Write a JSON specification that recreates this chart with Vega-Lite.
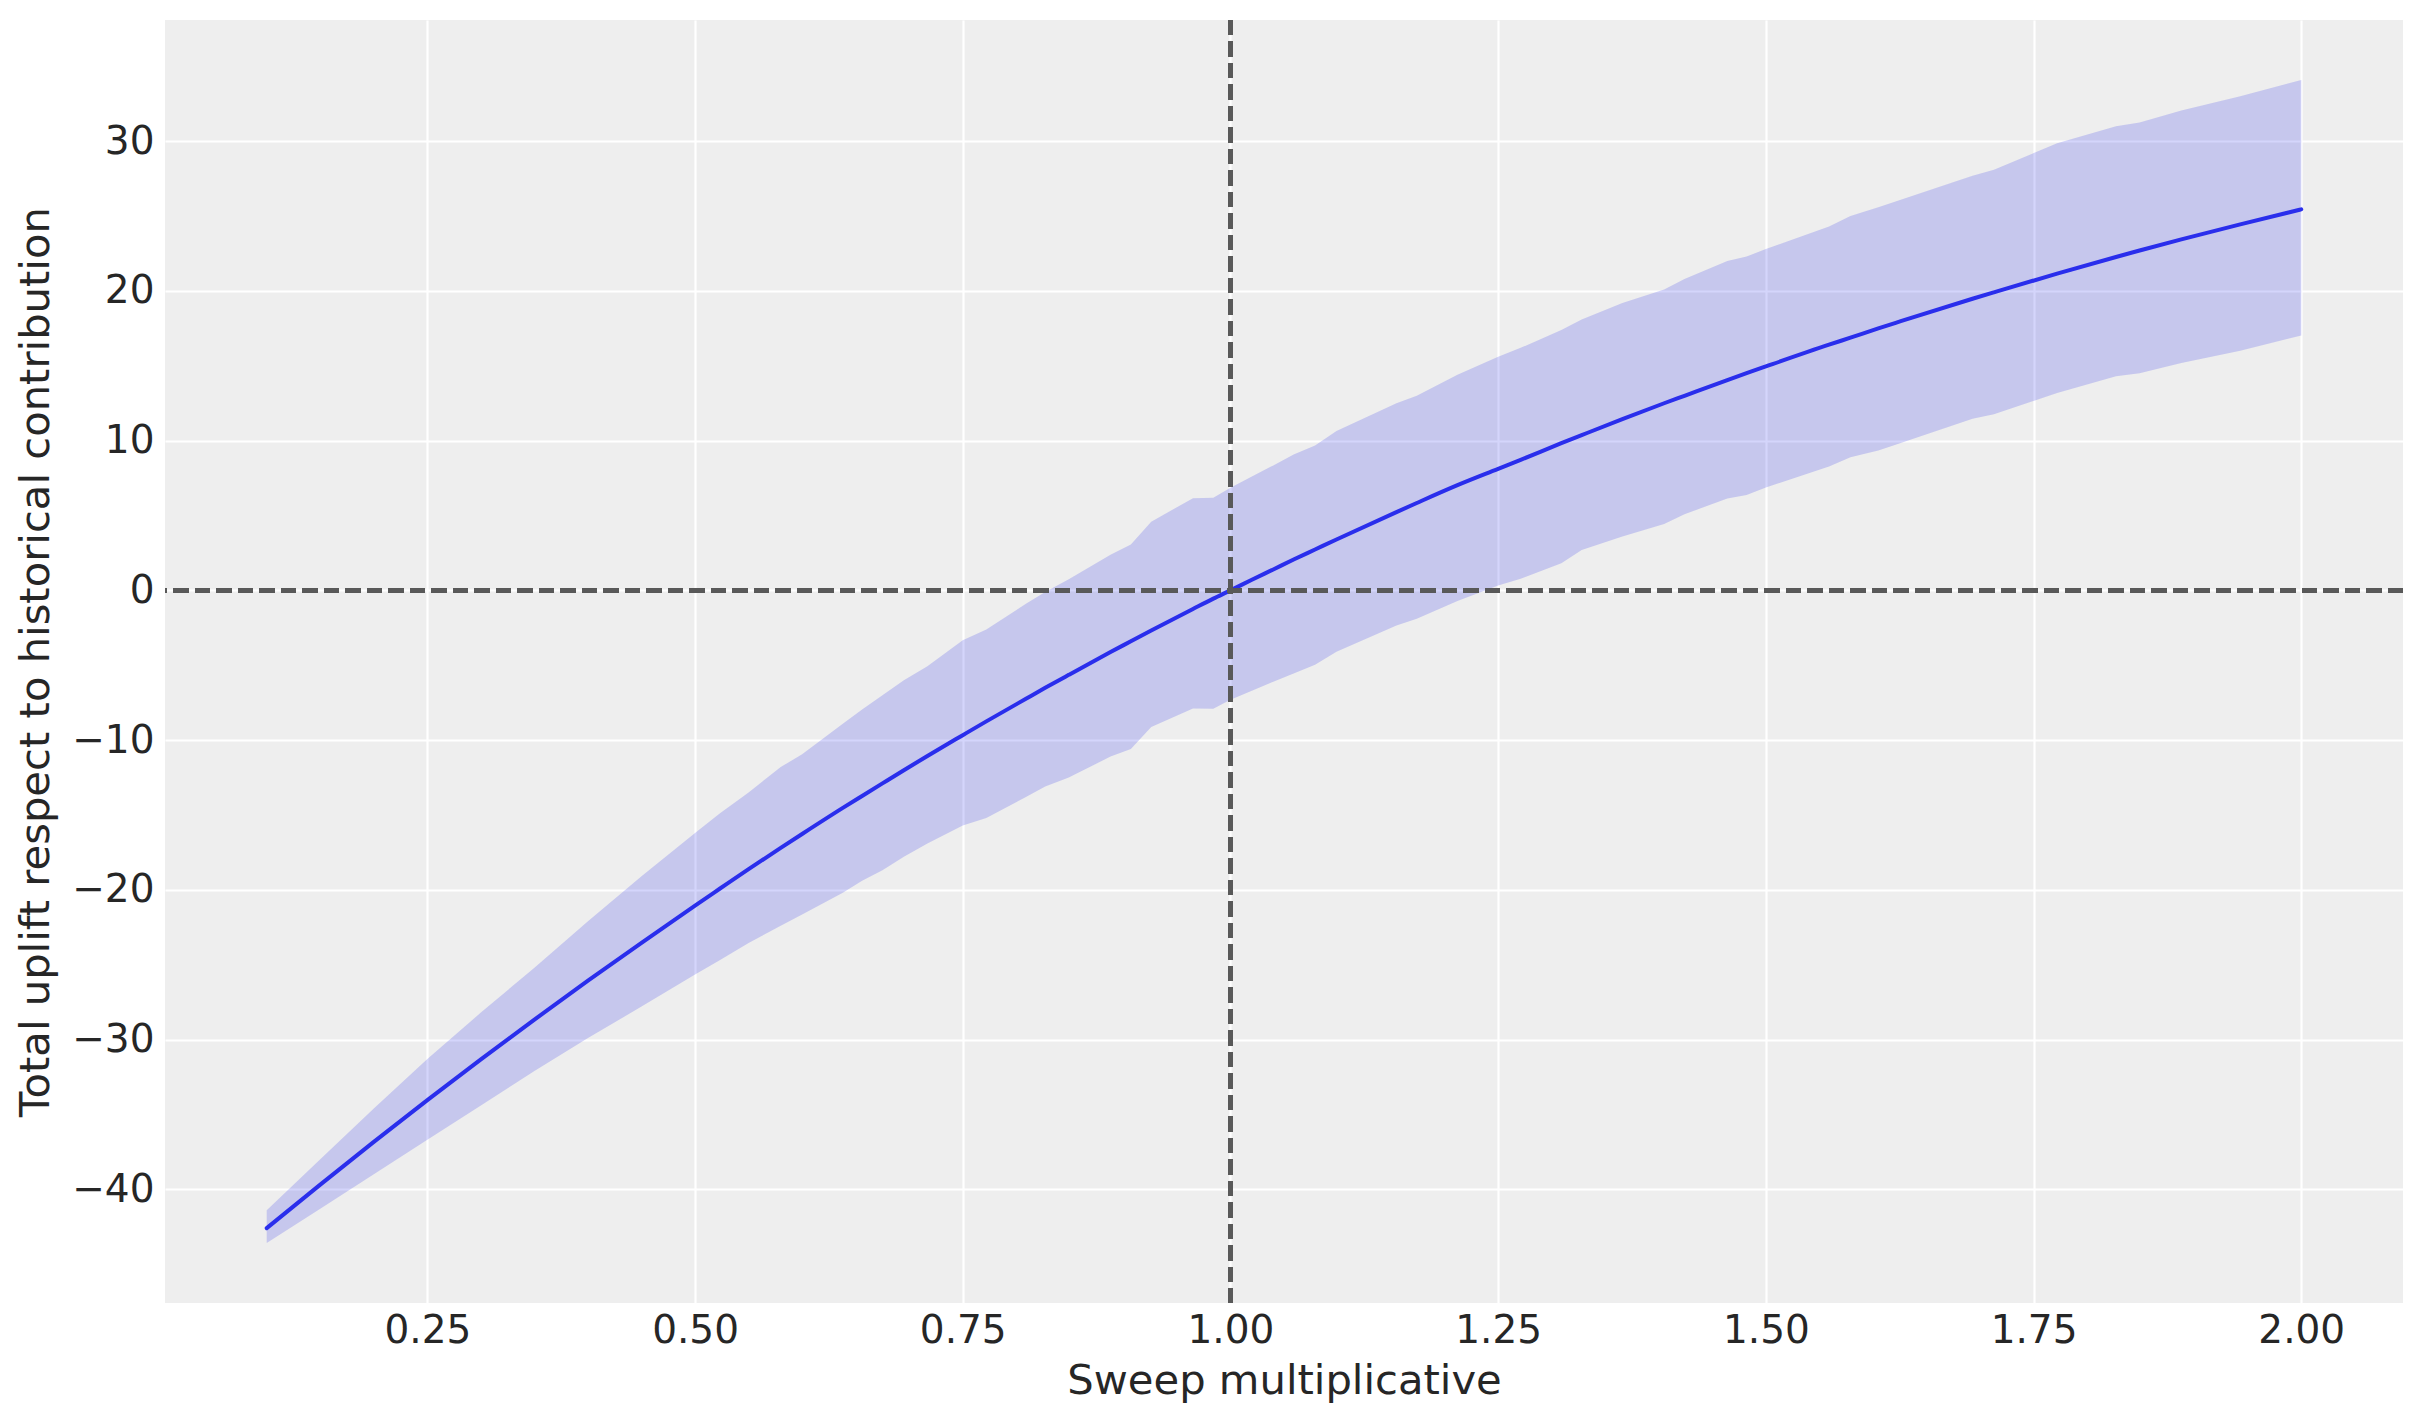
{
  "$schema": "https://vega.github.io/schema/vega-lite/v6.json",
  "width": 2238,
  "height": 1283,
  "autosize": {"type": "none"},
  "padding": {"left": 165, "top": 20, "right": 20, "bottom": 120},
  "background": "white",
  "config": {
    "view": {"fill": "#eeeeee", "stroke": null},
    "axis": {
      "domain": false,
      "ticks": false,
      "gridColor": "white",
      "gridWidth": 2.2,
      "labelFont": "DejaVu Sans",
      "labelFontSize": 39,
      "labelColor": "#262626",
      "titleFont": "DejaVu Sans",
      "titleFontSize": 41.7,
      "titleFontWeight": "normal",
      "titleColor": "#262626"
    }
  },
  "data": {
    "values": [
      {"x": 0.1, "lo": -43.6, "med": -42.6, "hi": -41.4},
      {"x": 0.15, "lo": -41.3, "med": -39.69, "hi": -38.0},
      {"x": 0.2, "lo": -39.0, "med": -36.84, "hi": -34.6},
      {"x": 0.25, "lo": -36.7, "med": -34.05, "hi": -31.3},
      {"x": 0.3, "lo": -34.4, "med": -31.33, "hi": -28.2},
      {"x": 0.35, "lo": -32.1, "med": -28.67, "hi": -25.2},
      {"x": 0.4, "lo": -29.9, "med": -26.07, "hi": -22.1},
      {"x": 0.45, "lo": -27.8, "med": -23.54, "hi": -19.1},
      {"x": 0.5, "lo": -25.65, "med": -21.05, "hi": -16.2},
      {"x": 0.523, "lo": -24.7, "med": -19.93, "hi": -14.9},
      {"x": 0.55, "lo": -23.55, "med": -18.62, "hi": -13.5},
      {"x": 0.58, "lo": -22.4, "med": -17.2, "hi": -11.8},
      {"x": 0.6, "lo": -21.65, "med": -16.27, "hi": -10.95},
      {"x": 0.638, "lo": -20.2, "med": -14.53, "hi": -8.9},
      {"x": 0.656, "lo": -19.4, "med": -13.73, "hi": -7.95},
      {"x": 0.675, "lo": -18.7, "med": -12.89, "hi": -7.0},
      {"x": 0.695, "lo": -17.8, "med": -12.01, "hi": -6.0},
      {"x": 0.717, "lo": -16.9, "med": -11.06, "hi": -5.06},
      {"x": 0.75, "lo": -15.7, "med": -9.67, "hi": -3.33},
      {"x": 0.772, "lo": -15.2, "med": -8.75, "hi": -2.62},
      {"x": 0.809, "lo": -13.8, "med": -7.24, "hi": -0.9},
      {"x": 0.827, "lo": -13.1, "med": -6.51, "hi": -0.1},
      {"x": 0.849, "lo": -12.5, "med": -5.64, "hi": 0.75},
      {"x": 0.888, "lo": -11.1, "med": -4.12, "hi": 2.38},
      {"x": 0.907, "lo": -10.6, "med": -3.4, "hi": 3.07},
      {"x": 0.926, "lo": -9.13, "med": -2.68, "hi": 4.59},
      {"x": 0.965, "lo": -7.89, "med": -1.24, "hi": 6.16},
      {"x": 0.984, "lo": -7.9, "med": -0.55, "hi": 6.19},
      {"x": 1.0, "lo": -7.3, "med": 0.0, "hi": 6.85},
      {"x": 1.02, "lo": -6.7, "med": 0.71, "hi": 7.6},
      {"x": 1.04, "lo": -6.1, "med": 1.4, "hi": 8.35},
      {"x": 1.059, "lo": -5.55, "med": 2.06, "hi": 9.08},
      {"x": 1.079, "lo": -4.97, "med": 2.73, "hi": 9.67},
      {"x": 1.099, "lo": -4.1, "med": 3.4, "hi": 10.65},
      {"x": 1.155, "lo": -2.35, "med": 5.23, "hi": 12.5},
      {"x": 1.174, "lo": -1.9, "med": 5.84, "hi": 13.0},
      {"x": 1.212, "lo": -0.71, "med": 7.03, "hi": 14.4},
      {"x": 1.25, "lo": 0.33, "med": 8.12, "hi": 15.6},
      {"x": 1.271, "lo": 0.77, "med": 8.72, "hi": 16.2},
      {"x": 1.309, "lo": 1.82, "med": 9.83, "hi": 17.4},
      {"x": 1.328, "lo": 2.7, "med": 10.37, "hi": 18.1},
      {"x": 1.366, "lo": 3.6, "med": 11.44, "hi": 19.2},
      {"x": 1.405, "lo": 4.43, "med": 12.5, "hi": 20.1},
      {"x": 1.424, "lo": 5.09, "med": 13.0, "hi": 20.8},
      {"x": 1.464, "lo": 6.13, "med": 14.05, "hi": 22.0},
      {"x": 1.482, "lo": 6.37, "med": 14.51, "hi": 22.3},
      {"x": 1.5, "lo": 6.87, "med": 14.96, "hi": 22.8},
      {"x": 1.559, "lo": 8.27, "med": 16.41, "hi": 24.3},
      {"x": 1.579, "lo": 8.9, "med": 16.88, "hi": 25.0},
      {"x": 1.605, "lo": 9.35, "med": 17.5, "hi": 25.6},
      {"x": 1.626, "lo": 9.85, "med": 17.98, "hi": 26.1},
      {"x": 1.693, "lo": 11.47, "med": 19.48, "hi": 27.7},
      {"x": 1.713, "lo": 11.76, "med": 19.91, "hi": 28.1},
      {"x": 1.772, "lo": 13.19, "med": 21.16, "hi": 29.86},
      {"x": 1.827, "lo": 14.3, "med": 22.27, "hi": 31.0},
      {"x": 1.849, "lo": 14.5, "med": 22.7, "hi": 31.26},
      {"x": 1.888, "lo": 15.19, "med": 23.45, "hi": 32.06},
      {"x": 1.943, "lo": 16.0, "med": 24.45, "hi": 33.0},
      {"x": 2.0, "lo": 17.03, "med": 25.45, "hi": 34.1}
    ]
  },
  "encoding": {
    "x": {
      "field": "x",
      "type": "quantitative",
      "scale": {"domain": [0.005, 2.095], "nice": false, "zero": false},
      "axis": {
        "title": "Sweep multiplicative",
        "values": [0.25, 0.5, 0.75, 1.0, 1.25, 1.5, 1.75, 2.0],
        "format": ".2f",
        "labelPadding": 8,
        "titlePadding": 10
      }
    }
  },
  "layer": [
    {
      "mark": {"type": "area", "color": "#2a2eec", "opacity": 0.2},
      "encoding": {
        "y": {
          "field": "lo",
          "type": "quantitative",
          "scale": {"domain": [-47.6, 38.1], "nice": false, "zero": false},
          "axis": {
            "title": "Total uplift respect to historical contribution",
            "values": [-40, -30, -20, -10, 0, 10, 20, 30],
            "labelPadding": 11,
            "titlePadding": 14
          }
        },
        "y2": {"field": "hi"}
      }
    },
    {
      "mark": {"type": "line", "color": "#2a2eec", "strokeWidth": 4, "interpolate": "monotone", "strokeCap": "round"},
      "encoding": {"y": {"field": "med", "type": "quantitative"}}
    },
    {
      "mark": {"type": "rule", "color": "#595959", "strokeWidth": 4, "strokeDash": [15, 6.5]},
      "encoding": {"y": {"datum": 0, "type": "quantitative"}, "x": null}
    },
    {
      "mark": {"type": "rule", "color": "#595959", "strokeWidth": 4, "strokeDash": [15, 6.5]},
      "encoding": {"x": {"datum": 1, "type": "quantitative"}}
    }
  ]
}
